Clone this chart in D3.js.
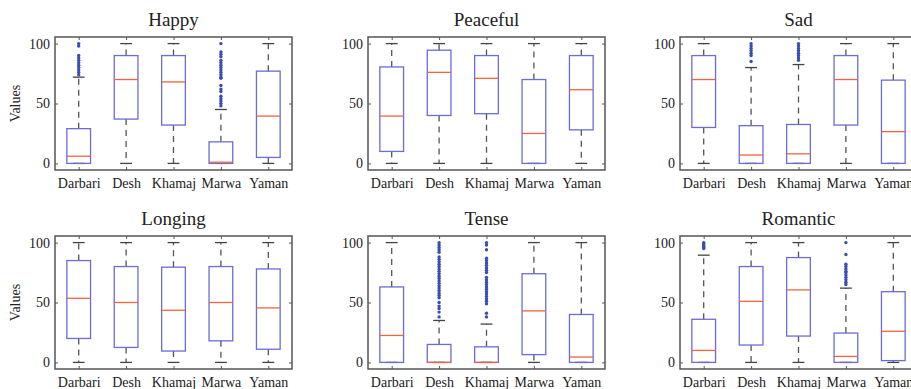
<!DOCTYPE html>
<html>
<head>
<meta charset="utf-8">
<script src="https://cdn.jsdelivr.net/npm/d3@7"></script>
<style>
  body { margin: 0; background: #fff; }
  .tick line { stroke: #555; }
</style>
</head>
<body>
<div id="chart"></div>
<script>
// DATA
const ragas = ["Darbari", "Desh", "Khamaj", "Marwa", "Yaman"];
const moods = ["Happy", "Peaceful", "Sad", "Longing", "Tense", "Romantic"];
const yTicks = [0, 50, 100];

// box stats per raga: [lower whisker, q1, median, q3, upper whisker]
const happyStats    = [[0, 0, 6, 29, 72], [0, 37, 70, 90, 100], [0, 32, 68, 90, 100], [0, 0, 1, 18, 45], [0, 5, 39.5, 77, 100]];
const peacefulStats = [[0, 10, 39.5, 80.5, 100], [0, 40, 76, 94.5, 100], [0, 41.5, 71, 90, 100], [0, 0, 25, 70, 100], [0, 28, 61.5, 90, 100]];
const sadStats      = [[0, 30, 70, 90, 100], [0, 0, 7, 31.5, 80], [0, 0, 8, 32.5, 82.5], [0, 32, 70, 90, 100], [0, 0, 26.5, 69.5, 100]];
const longingStats  = [[0, 20, 53.5, 85, 100], [0, 12.5, 50, 80, 100], [0, 9.5, 43.5, 79.5, 100], [0, 18, 50, 80, 100], [0, 11, 45.5, 78, 100]];
const tenseStats    = [[0, 0, 22.5, 63, 100], [0, 0, 0, 15, 35], [0, 0, 0, 13, 32], [0, 6.5, 43, 74, 100], [0, 0, 4.5, 40, 100]];
const romanticStats = [[0, 0, 10, 36, 89.5], [0, 14.5, 51, 80, 100], [0, 22, 60.5, 87.5, 100], [0, 0, 5, 24.5, 62], [0, 1.5, 26, 59, 100]];

// outliers per raga
const happyOutliers    = [[100, 98, 90, 88, 86, 84, 82, 80, 78, 76, 74], [], [],
                          [100, 93, 91, 89, 86, 84, 82, 80, 78, 76, 74, 72, 71, 65, 62, 60, 56, 54, 52, 50, 48], []];
const peacefulOutliers = [[], [], [], [], []];
const sadOutliers      = [[], [100, 98, 96, 94, 92, 90, 85], [100, 98, 96, 94, 92, 90, 88, 86], [], []];
const longingOutliers  = [[], [], [], [], []];
const tenseOutliers    = [[], [100, 98, 96, 94, 92, 88, 86, 84, 82, 80, 78, 76, 74, 72, 70, 68, 66, 64, 62, 60, 58, 56, 54, 50, 47, 45, 42, 38],
                          [100, 98, 94, 87, 85, 83, 81, 79, 77, 75, 71, 69, 67, 65, 63, 61, 59, 57, 55, 53, 51, 49, 41, 38], [], []];
const romanticOutliers = [[100, 99, 98, 97, 96, 95], [], [],
                          [100, 90, 82, 80, 78, 76, 75, 73, 71, 69, 67, 65], []];

const allStats    = [happyStats, peacefulStats, sadStats, longingStats, tenseStats, romanticStats];
const allOutliers = [happyOutliers, peacefulOutliers, sadOutliers, longingOutliers, tenseOutliers, romanticOutliers];

// LAYOUT
var WIDTH = 911, HEIGHT = 389
var PANEL = { WIDTH: 237, HEIGHT: 133 }
var PANEL_X = [55, 368, 680]
var PANEL_Y = [37, 236]
var FONT = '"Liberation Serif"'
const COLOURS = { box: '#6b6bd9', median: '#f0653c', whisker: '#555', outlier: '#3a4db0', frame: '#555' }

const svg = d3.select("#chart").append("svg")
  .attr("width", WIDTH)
  .attr("height", HEIGHT)

const xScale = d3.scalePoint().domain(ragas).range([0, PANEL.WIDTH]).padding(0.5)
const yScale = d3.scaleLinear().domain([-5.5, 105.5]).range([PANEL.HEIGHT, 0])
const boxW = xScale.step() * 0.5
const capW = boxW * 0.5

moods.forEach((mood, m) => drawPanel(mood, allStats[m], allOutliers[m], m % 3, Math.floor(m / 3)))

// serif everywhere, set inline so the axis defaults do not win
svg.selectAll('text').style('font-family', FONT).style('fill', '#222')

function drawPanel(mood, stats, outliers, col, row) {
  const g = svg.append('g')
    .attr('transform', `translate(${PANEL_X[col]}, ${PANEL_Y[row]})`)

  // axes with inward ticks on all four sides
  g.append('g').call(d3.axisLeft(yScale).tickValues(yTicks).tickSizeInner(-3).tickSizeOuter(0).tickPadding(5))
  g.append('g').attr('transform', `translate(${PANEL.WIDTH},0)`)
    .call(d3.axisRight(yScale).tickValues(yTicks).tickSizeInner(-3).tickSizeOuter(0).tickFormat(''))
  g.append('g').attr('transform', `translate(0,${PANEL.HEIGHT})`)
    .call(d3.axisBottom(xScale).tickSizeInner(-3).tickSizeOuter(0).tickPadding(8))
  g.append('g').call(d3.axisTop(xScale).tickSizeInner(-3).tickSizeOuter(0).tickFormat(''))
  g.selectAll('.domain').remove()
  g.selectAll('.tick text').style('font-size', '14px')

  g.append('rect')
    .attr('width', PANEL.WIDTH).attr('height', PANEL.HEIGHT)
    .attr('fill', 'none').attr('stroke', COLOURS.frame).attr('stroke-width', 1.5)

  g.append('text')
    .attr('x', PANEL.WIDTH / 2).attr('y', -11)
    .style('font-size', '19px')
    .attr('text-anchor', 'middle').text(mood)

  if (col == 0) {
    g.append('text')
      .attr('transform', `translate(${15 - PANEL_X[col]},${PANEL.HEIGHT / 2}) rotate(-90)`)
      .style('font-size', '14px')
      .attr('text-anchor', 'middle').attr('dy', '0.35em').text('Values')
  }

  const boxes = g.selectAll('.box').data(ragas).join('g')
    .attr('class', 'box')
    .attr('transform', d => `translate(${xScale(d)},0)`)

  // whiskers
  boxes.append('line')
    .attr('y1', (d, i) => yScale(stats[i][3])).attr('y2', (d, i) => yScale(stats[i][4]))
    .attr('stroke', COLOURS.whisker).attr('stroke-width', 1.3).attr('stroke-dasharray', '6,5')
  boxes.append('line')
    .attr('y1', (d, i) => yScale(stats[i][1])).attr('y2', (d, i) => yScale(stats[i][0]))
    .attr('stroke', COLOURS.whisker).attr('stroke-width', 1.3).attr('stroke-dasharray', '6,5')
  // caps
  ;[0, 4].forEach(k => {
    boxes.append('line')
      .attr('x1', -capW / 2).attr('x2', capW / 2)
      .attr('y1', (d, i) => yScale(stats[i][k])).attr('y2', (d, i) => yScale(stats[i][k]))
      .attr('stroke', '#444').attr('stroke-width', 1.3)
  })

  boxes.append('rect')
    .attr('x', -boxW / 2).attr('width', boxW)
    .attr('y', (d, i) => yScale(stats[i][3]))
    .attr('height', (d, i) => yScale(stats[i][1]) - yScale(stats[i][3]))
    .attr('fill', 'none').attr('stroke', COLOURS.box).attr('stroke-width', 1.3)

  boxes.append('line')
    .attr('x1', -boxW / 2).attr('x2', boxW / 2)
    .attr('y1', (d, i) => yScale(stats[i][2])).attr('y2', (d, i) => yScale(stats[i][2]))
    .attr('stroke', COLOURS.median).attr('stroke-width', 1.3)

  boxes.selectAll('circle').data((d, i) => outliers[i]).join('circle')
    .attr('cx', 0).attr('cy', d => yScale(d)).attr('r', 1.7)
    .attr('fill', COLOURS.outlier)
}
</script>
</body>
</html>
